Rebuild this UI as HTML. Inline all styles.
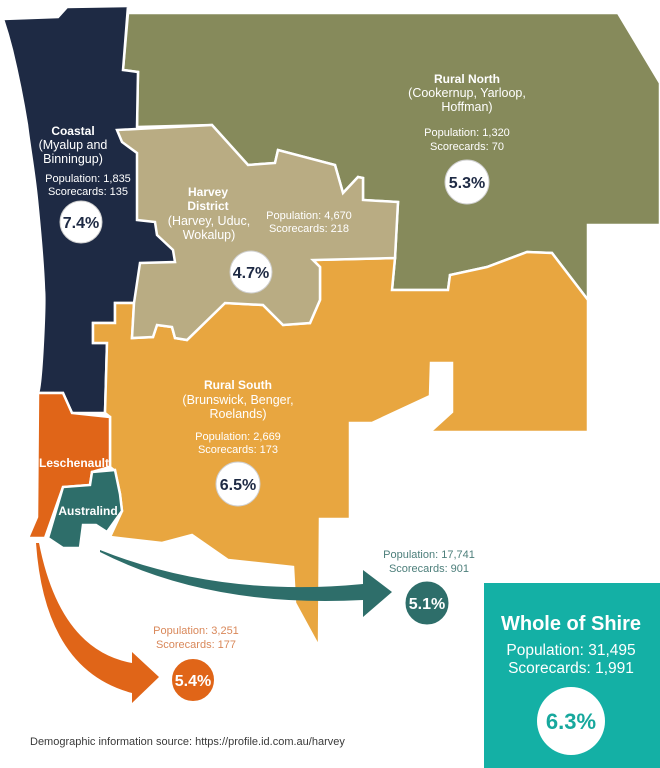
<!DOCTYPE html>
<html>
<head>
<meta charset="utf-8">
<style>
  html,body{margin:0;padding:0;background:#fff;}
  svg{display:block;}
  text{font-family:"Liberation Sans",Arial,sans-serif;}
</style>
</head>
<body>
<svg width="660" height="768" viewBox="0 0 660 768" xmlns="http://www.w3.org/2000/svg">
  <rect width="660" height="768" fill="#ffffff"/>

  <!-- Rural North (olive) -->
  <path d="M128,13 L618,13 L660,83 L660,225 L588,225 L588,300 L552,253 L527,252 L487,267 L450,275 L448,290 L392,290 L395,258 L398,202 L363,200 L363,178 L358,177 L343,193 L335,165 L278,150 L275,163 L248,165 L212,125 L137,127 L138,72 L123,70 Z"
        fill="#868a5b" stroke="#ffffff" stroke-width="2.5" stroke-linejoin="miter"/>

  <!-- Coastal (navy) -->
  <path d="M3,19 L58,17 L67,7 L128,6 L123,70 L138,72 L137,127 L160,180 L180,262 L150,290 L134,303 L115,303 L115,323 L93,323 L93,343 L107,343 L105,413 L72,413 L63,393 L38,393 C40,388 42,360 43,340 C44,320 45,300 44,290 C43,260 40,230 37,200 C34,170 30,150 27,125 C23,100 18,75 12,50 C9,38 6,28 3,19 Z"
        fill="#1e2a44" stroke="#ffffff" stroke-width="2.5" stroke-linejoin="miter"/>

  <!-- Rural South (orange) -->
  <path d="M115,303 L134,303 L132,338 L153,337 L157,325 L172,327 L175,338 L187,340 L225,303 L263,305 L283,325 L310,323 L320,300 L320,267 L313,260 L395,258 L392,290 L448,290 L450,275 L487,267 L527,252 L552,253 L588,300 L588,432 L430,432 L452,412 L452,363 L431,363 L430,396 L372,423 L350,423 L350,519 L320,519 L319,647 L295,603 L293,567 L228,560 L192,535 L162,543 L110,537 L122,511 L120,494 L115,471 L110,467 L110,417 L105,413 L107,343 L93,343 L93,323 L115,323 Z"
        fill="#e8a640" stroke="#ffffff" stroke-width="2.5" stroke-linejoin="miter"/>

  <!-- Harvey District (tan) -->
  <path d="M117,130 L212,125 L248,165 L275,163 L278,150 L335,165 L343,193 L358,177 L363,178 L363,200 L398,202 L395,258 L313,260 L320,267 L320,300 L310,323 L283,325 L263,305 L225,303 L187,340 L175,338 L172,327 L157,325 L153,337 L132,338 L134,303 L140,263 L175,262 L173,250 L157,235 L155,222 L137,220 L137,153 L122,142 Z"
        fill="#b9ac83" stroke="#ffffff" stroke-width="2.5" stroke-linejoin="miter"/>

  <!-- Leschenault -->
  <path d="M38,393 L63,393 L72,413 L110,417 L110,467 L92,472 L90,485 L63,487 L45,538 L28,538 L37,517 Z"
        fill="#e06518" stroke="#ffffff" stroke-width="2.5" stroke-linejoin="miter"/>

  <!-- Australind -->
  <path d="M92,472 L115,470 L120,494 L122,511 L107,532 L96,525 L83,525 L80,548 L63,548 L48,538 L63,487 L90,485 Z"
        fill="#2e6e6a" stroke="#ffffff" stroke-width="2.5" stroke-linejoin="miter"/>

  <!-- Orange arrow -->
  <path d="M36,543 Q45,670 132,693 L132,703 L159,677 L132,652 L132,663 Q60,650 39,543 Z" fill="#e06518"/>

  <!-- Teal arrow -->
  <path d="M100,550 Q220,598 363,584 L363,570 L392,592 L363,617 L363,600 Q210,608 100,552 Z" fill="#2e6e6a"/>

  <!-- Whole of Shire box -->
  <rect x="484" y="583" width="176" height="185" fill="#14b0a5"/>

  <!-- Coastal text -->
  <g fill="#ffffff" text-anchor="middle">
    <text x="73" y="135" font-size="12" font-weight="bold">Coastal</text>
    <text x="73" y="149" font-size="12.5">(Myalup and</text>
    <text x="73" y="163" font-size="12.5">Binningup)</text>
    <text x="88" y="182" font-size="11">Population: 1,835</text>
    <text x="88" y="195" font-size="11">Scorecards: 135</text>
  </g>
  <circle cx="81" cy="222" r="21" fill="#ffffff" stroke="#cfcfcf" stroke-width="1"/>
  <text x="81" y="228" font-size="16" font-weight="bold" fill="#1e2a44" text-anchor="middle">7.4%</text>

  <!-- Harvey District text -->
  <g fill="#ffffff" text-anchor="middle">
    <text x="208" y="196" font-size="12" font-weight="bold">Harvey</text>
    <text x="208" y="210" font-size="12" font-weight="bold">District</text>
    <text x="209" y="225" font-size="12.5">(Harvey, Uduc,</text>
    <text x="209" y="239" font-size="12.5">Wokalup)</text>
    <text x="309" y="219" font-size="11">Population: 4,670</text>
    <text x="309" y="232" font-size="11">Scorecards: 218</text>
  </g>
  <circle cx="251" cy="272" r="21" fill="#ffffff" stroke="#cfcfcf" stroke-width="1"/>
  <text x="251" y="278" font-size="16" font-weight="bold" fill="#1e2a44" text-anchor="middle">4.7%</text>

  <!-- Rural North text -->
  <g fill="#ffffff" text-anchor="middle">
    <text x="467" y="83" font-size="12" font-weight="bold">Rural North</text>
    <text x="467" y="97" font-size="12.5">(Cookernup, Yarloop,</text>
    <text x="467" y="111" font-size="12.5">Hoffman)</text>
    <text x="467" y="136" font-size="11">Population: 1,320</text>
    <text x="467" y="150" font-size="11">Scorecards: 70</text>
  </g>
  <circle cx="467" cy="182" r="22" fill="#ffffff" stroke="#cfcfcf" stroke-width="1"/>
  <text x="467" y="188" font-size="16" font-weight="bold" fill="#1e2a44" text-anchor="middle">5.3%</text>

  <!-- Rural South text -->
  <g fill="#ffffff" text-anchor="middle">
    <text x="238" y="389" font-size="12" font-weight="bold">Rural South</text>
    <text x="238" y="404" font-size="12.5">(Brunswick, Benger,</text>
    <text x="238" y="418" font-size="12.5">Roelands)</text>
    <text x="238" y="440" font-size="11">Population: 2,669</text>
    <text x="238" y="453" font-size="11">Scorecards: 173</text>
  </g>
  <circle cx="238" cy="484" r="22" fill="#ffffff" stroke="#cfcfcf" stroke-width="1"/>
  <text x="238" y="490" font-size="16" font-weight="bold" fill="#1e2a44" text-anchor="middle">6.5%</text>

  <!-- Leschenault / Australind labels -->
  <text x="74" y="467" font-size="12" font-weight="bold" fill="#ffffff" text-anchor="middle">Leschenault</text>
  <text x="88" y="515" font-size="12" font-weight="bold" fill="#ffffff" text-anchor="middle">Australind</text>

  <!-- Leschenault stats -->
  <g fill="#d9885a" text-anchor="middle">
    <text x="196" y="634" font-size="11">Population: 3,251</text>
    <text x="196" y="648" font-size="11">Scorecards: 177</text>
  </g>
  <circle cx="193" cy="680" r="21.5" fill="#e06518" stroke="#ffffff" stroke-width="1"/>
  <text x="193" y="686" font-size="16" font-weight="bold" fill="#ffffff" text-anchor="middle">5.4%</text>

  <!-- Australind stats -->
  <g fill="#4d7f7b" text-anchor="middle">
    <text x="429" y="558" font-size="11">Population: 17,741</text>
    <text x="429" y="572" font-size="11">Scorecards: 901</text>
  </g>
  <circle cx="427" cy="603" r="22" fill="#2e6e6a" stroke="#ffffff" stroke-width="1"/>
  <text x="427" y="609" font-size="16" font-weight="bold" fill="#ffffff" text-anchor="middle">5.1%</text>

  <!-- Whole of Shire text -->
  <g fill="#ffffff" text-anchor="middle">
    <text x="571" y="630" font-size="20" font-weight="bold">Whole of Shire</text>
    <text x="571" y="655" font-size="15.5">Population: 31,495</text>
    <text x="571" y="673" font-size="15.5">Scorecards: 1,991</text>
  </g>
  <circle cx="571" cy="721" r="34" fill="#ffffff"/>
  <text x="571" y="729" font-size="22" font-weight="bold" fill="#17a89d" text-anchor="middle">6.3%</text>

  <!-- Source -->
  <text x="30" y="745" font-size="11" fill="#3a3a3a">Demographic information source: https://profile.id.com.au/harvey</text>
</svg>
</body>
</html>
